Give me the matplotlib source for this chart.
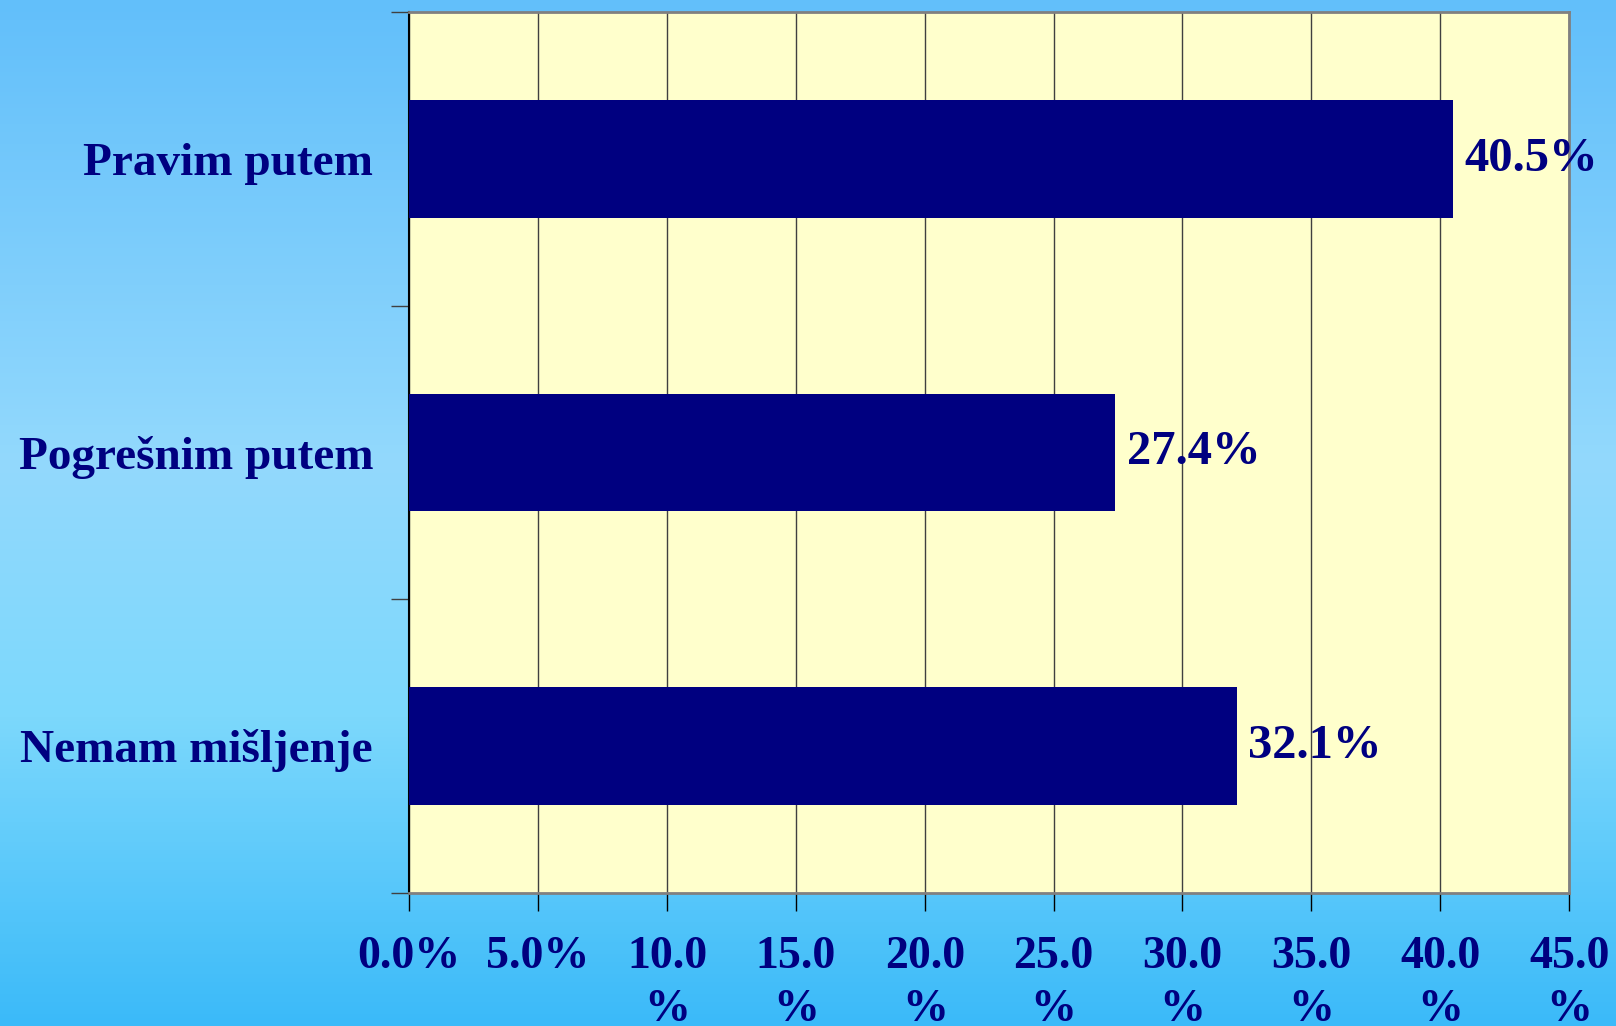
import matplotlib
matplotlib.use("Agg")
import matplotlib.pyplot as plt
import numpy as np
from matplotlib.colors import LinearSegmentedColormap

categories = ["Pravim putem", "Pogrešnim putem", "Nemam mišljenje"]
values = [40.5, 27.4, 32.1]
xticks = [0, 5, 10, 15, 20, 25, 30, 35, 40, 45]
xtick_labels = ["0.0%", "5.0%", "10.0\n%", "15.0\n%", "20.0\n%", "25.0\n%",
                "30.0\n%", "35.0\n%", "40.0\n%", "45.0\n%"]
value_labels = ["40.5%", "27.4%", "32.1%"]

NAVY = "#000080"
FONT = "Liberation Serif"

fig = plt.figure(figsize=(16.16, 10.26), dpi=100)

# gradient background
bg = fig.add_axes([0, 0, 1, 1], zorder=-10)
cmap = LinearSegmentedColormap.from_list(
    "bg", [(0.0, "#62BFFA"), (0.45, "#93D9FD"), (0.7, "#7CD8FC"), (1.0, "#3BBAF9")])
grad = np.linspace(0, 1, 256).reshape(-1, 1)
bg.imshow(grad, aspect="auto", cmap=cmap, extent=[0, 1, 0, 1], origin="upper")
bg.set_axis_off()

ax = fig.add_axes([0.2532, 0.1301, 0.7178, 0.8578])
ax.set_facecolor("#FFFFCC")

ypos = np.arange(len(categories))
ax.barh(ypos, values, height=0.4, color=NAVY, zorder=3)
ax.set_xlim(0, 45)
ax.set_ylim(2.5, -0.5)

ax.set_xticks(xticks)
ax.set_xticklabels(xtick_labels, fontsize=33, fontweight="bold", color=NAVY,
                   family=FONT, linespacing=1.35, va="top")
ax.tick_params(axis="x", direction="out", length=13, width=1, color="black", pad=18)
ax.xaxis.grid(True, color="#404040", linewidth=1, zorder=1)
ax.set_axisbelow(True)

ax.set_yticks([-0.5, 0.5, 1.5, 2.5])
ax.set_yticklabels([])
ax.tick_params(axis="y", which="major", direction="out", length=13, width=1, color="#404040")
ax.set_yticks(ypos, minor=True)
ax.set_yticklabels(categories, minor=True, fontsize=34, fontweight="bold",
                   color=NAVY, family=FONT)
ax.tick_params(axis="y", which="minor", length=0, pad=26)

for s in ["top", "right", "bottom"]:
    ax.spines[s].set_color("#808080")
    ax.spines[s].set_linewidth(2)
ax.spines["left"].set_color("black")
ax.spines["left"].set_linewidth(1.5)

for y, v, lab in zip(ypos, values, value_labels):
    ax.annotate(lab, (v, y), xytext=(8, 0), textcoords="offset points",
                va="center", ha="left", fontsize=35, fontweight="bold",
                color=NAVY, family=FONT, zorder=5, annotation_clip=False)

fig.savefig("out.png", dpi=100)
